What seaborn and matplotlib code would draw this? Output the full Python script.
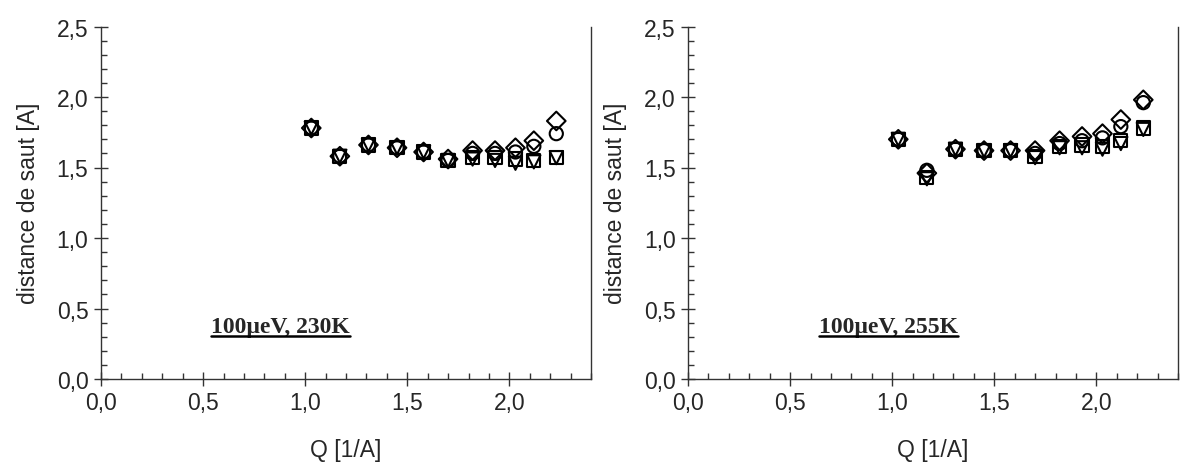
import seaborn as sns
import matplotlib.pyplot as plt
import pandas as pd
from matplotlib.ticker import MultipleLocator, FuncFormatter
from matplotlib.lines import Line2D

# Q values (1/A)
q = [1.03, 1.17, 1.31, 1.45, 1.58, 1.70, 1.82, 1.93, 2.03, 2.12, 2.23]

# 100 ueV, 230K
d230_diamond = [1.78, 1.58, 1.66, 1.64, 1.61, 1.56, 1.62, 1.62, 1.64, 1.69, 1.83]
d230_circle = [1.78, 1.58, 1.66, 1.64, 1.61, 1.55, 1.60, 1.60, 1.61, 1.65, 1.74]
d230_square = [1.78, 1.58, 1.66, 1.64, 1.61, 1.55, 1.57, 1.57, 1.56, 1.55, 1.57]
d230_tridown = [1.78, 1.58, 1.66, 1.64, 1.61, 1.55, 1.56, 1.55, 1.53, 1.54, 1.57]

# 100 ueV, 255K
d255_diamond = [1.70, 1.46, 1.63, 1.62, 1.62, 1.62, 1.69, 1.72, 1.74, 1.84, 1.98]
d255_circle = [1.70, 1.48, 1.63, 1.62, 1.62, 1.60, 1.67, 1.69, 1.71, 1.79, 1.96]
d255_square = [1.70, 1.43, 1.63, 1.62, 1.62, 1.58, 1.65, 1.66, 1.65, 1.69, 1.78]
d255_tridown = [1.70, 1.42, 1.63, 1.62, 1.62, 1.57, 1.64, 1.64, 1.63, 1.67, 1.77]

panel_titles = ["100µeV, 230K", "100µeV, 255K"]
markers = {"diamond": "D", "circle": "o", "square": "s", "tridown": "v"}


def make_df(diamond, circle, square, tridown):
    rows = []
    for name, vals in zip(markers, [diamond, circle, square, tridown]):
        for x, y in zip(q, vals):
            rows.append({"Q": x, "d": y, "serie": name})
    return pd.DataFrame(rows)


def comma(v, pos):
    return "{:.1f}".format(v).replace(".", ",")


def style_axes(ax):
    ax.set_xlim(0, 2.4)
    ax.set_ylim(0, 2.5)
    ax.xaxis.set_major_locator(MultipleLocator(0.5))
    ax.xaxis.set_minor_locator(MultipleLocator(0.1))
    ax.yaxis.set_major_locator(MultipleLocator(0.5))
    ax.yaxis.set_minor_locator(MultipleLocator(0.1))
    ax.xaxis.set_major_formatter(FuncFormatter(comma))
    ax.yaxis.set_major_formatter(FuncFormatter(comma))
    ax.tick_params(which="both", bottom=True, left=True, top=False, right=False)
    ax.tick_params(which="major", direction="inout", length=10, width=1,
                   color="#333333", labelsize=16.5, pad=4)
    ax.tick_params(which="minor", direction="in", length=4, width=1,
                   color="#333333")
    ax.spines["top"].set_visible(False)
    for s in ["left", "bottom", "right"]:
        ax.spines[s].set_color("#333333")
        ax.spines[s].set_linewidth(1)
    ax.set_xlabel("Q [1/A]", fontsize=16.5, labelpad=17)
    ax.set_ylabel("distance de saut [A]", fontsize=16.5, labelpad=12)
    ax.grid(False)


if __name__ == "__main__":
    sns.set_style("white")
    plt.rcParams["font.family"] = ["Liberation Sans", "DejaVu Sans"]

    fig = plt.figure(figsize=(11.89, 4.64), dpi=100)
    ax1 = fig.add_axes([101 / 1189, 84 / 464, 490 / 1189, 352.5 / 464])
    ax2 = fig.add_axes([688 / 1189, 84 / 464, 490 / 1189, 352.5 / 464])

    data = [
        make_df(d230_diamond, d230_circle, d230_square, d230_tridown),
        make_df(d255_diamond, d255_circle, d255_square, d255_tridown),
    ]
    text_x = [0.88, 0.98]

    for ax, df, title, tx in zip([ax1, ax2], data, panel_titles, text_x):
        for name, m in markers.items():
            sub = df[df["serie"] == name]
            sns.scatterplot(data=sub, x="Q", y="d", marker=m, s=90,
                            color="black", facecolor="none",
                            edgecolor="black", linewidth=1.5,
                            legend=False, ax=ax)
        style_axes(ax)
        t = ax.text(tx, 0.37, title, ha="center", va="center",
                    fontsize=17, fontweight="bold",
                    family=["Liberation Serif", "DejaVu Serif"])
        fig.canvas.draw()
        bb = t.get_window_extent().transformed(fig.transFigure.inverted())
        fig.add_artist(Line2D([bb.x0, bb.x1], [bb.y0 + 0.002, bb.y0 + 0.002],
                              transform=fig.transFigure, color="black",
                              linewidth=1.8))

    fig.savefig("out.png", dpi=100)
